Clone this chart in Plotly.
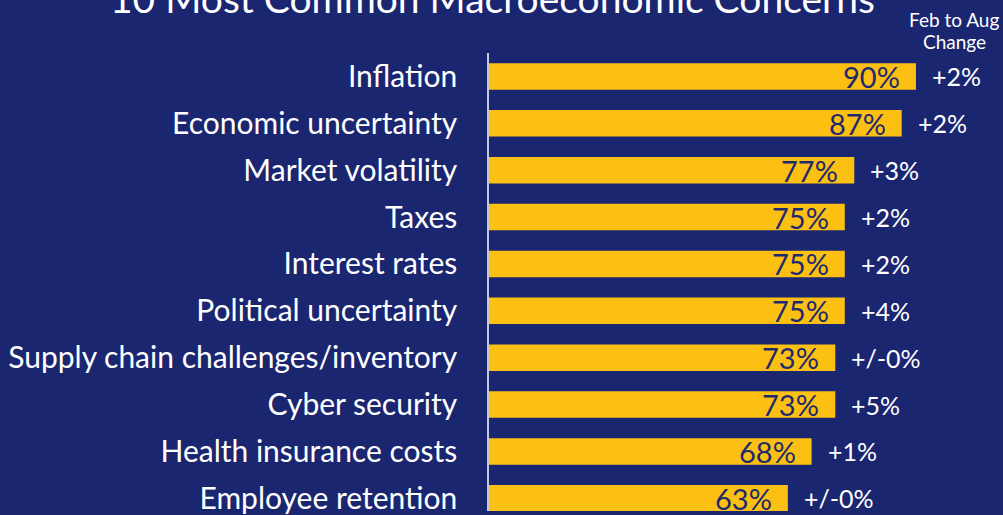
import plotly.graph_objects as go

categories = [
    "Inflation",
    "Economic uncertainty",
    "Market volatility",
    "Taxes",
    "Interest rates",
    "Political uncertainty",
    "Supply chain challenges/inventory",
    "Cyber security",
    "Health insurance costs",
    "Employee retention",
]
share = [90, 87, 77, 75, 75, 75, 73, 73, 68, 63]
change = ["+2%", "+2%", "+3%", "+2%", "+2%", "+4%", "+/-0%", "+5%", "+1%", "+/-0%"]

title = "10 Most Common Macroeconomic Concerns"
change_header = ["Feb to Aug", "Change"]

BG = "#1b2670"
YELLOW = "#fcc013"
NAVY = "#1e2a6e"
FONT = "Lato"


def main():
    fig = go.Figure(go.Bar(
        x=share,
        y=categories,
        orientation="h",
        marker={"color": YELLOW, "line": {"width": 0}},
        hoverinfo="skip",
    ))

    # value labels inside the bar end
    for cat, v in zip(categories, share):
        fig.add_annotation(
            x=v, y=cat, text=f"{v}%", showarrow=False,
            xanchor="right", xshift=-14,
            font={"family": FONT, "size": 29, "color": NAVY},
        )

    # change labels right of the bar
    for cat, v, c in zip(categories, share, change):
        fig.add_annotation(
            x=v, y=cat, text=c, showarrow=False,
            xanchor="left", xshift=14,
            font={"family": FONT, "size": 25, "color": "white"},
        )

    # column header, one line each
    for line, shift in zip(change_header, [34, 12]):
        fig.add_annotation(
            xref="paper", yref="paper", x=0.905, y=1, yshift=shift,
            text=line, showarrow=False, xanchor="center", yanchor="middle",
            font={"family": FONT, "size": 19, "color": "white"},
        )
    fig.add_annotation(
        xref="paper", yref="paper", x=0.006, y=1, yshift=55,
        text=title, showarrow=False, xanchor="center", yanchor="middle",
        font={"family": FONT, "size": 39, "color": "white"},
    )

    fig.update_layout(
        width=1003, height=515,
        margin={"l": 489, "r": 0, "t": 53, "b": 0},
        paper_bgcolor=BG, plot_bgcolor=BG,
        bargap=0.435,
        showlegend=False,
        font={"family": FONT, "color": "white"},
        xaxis={"range": [0, 108.35], "visible": False, "fixedrange": True},
        yaxis={
            "range": [9.27, -0.5],
            "showline": True, "linecolor": "#c5c9dc", "linewidth": 1.5,
            "showgrid": False, "zeroline": False, "ticks": "",
            "ticklabelstandoff": 24,
            "tickfont": {"family": FONT, "size": 30, "color": "white"},
        },
    )
    # drop the default page margin so the figure fills the window
    fig.write_html("out.html", config={"displayModeBar": False},
                   post_script="document.body.style.margin='0';")


if __name__ == "__main__":
    main()
